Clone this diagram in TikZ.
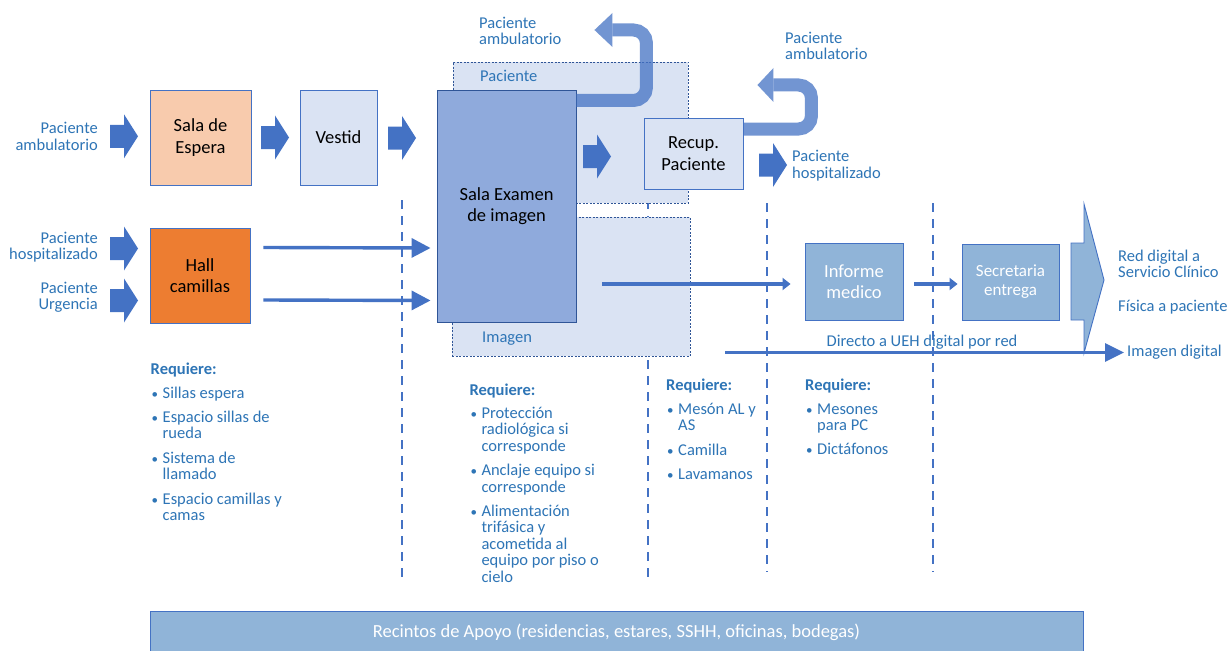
\documentclass[tikz,border=0pt]{standalone}
\usepackage{fontspec}
\setmainfont{Carlito}
\usetikzlibrary{arrows.meta}
\definecolor{txtblue}{RGB}{46,117,182}
\definecolor{arrblue}{RGB}{68,114,196}
\definecolor{bord}{RGB}{68,114,196}
\definecolor{darkbord}{RGB}{47,85,151}
\definecolor{peach}{RGB}{248,203,173}
\definecolor{pale}{RGB}{218,227,243}
\definecolor{examfill}{RGB}{143,170,220}
\definecolor{hallor}{RGB}{237,125,49}
\definecolor{infofill}{RGB}{144,180,216}
\newcommand{\lblfont}{\fontsize{16.5}{16.4}\selectfont}
\newcommand{\boxfont}{\fontsize{18.5}{21.5}\selectfont}
\newcommand{\bul}{\makebox[12pt][l]{\hspace{1pt}{\fontsize{13}{13}\selectfont •}}}
\newcommand{\ind}{\hspace*{12pt}}
\tikzset{
  box/.style={draw=bord, line width=0.9pt, align=center, inner sep=0pt, font=\boxfont, text=black},
  dbox/.style={draw=darkbord, line width=0.7pt, dash pattern=on 2pt off 1.5pt, fill=pale, inner sep=0pt},
  lbl/.style={font=\lblfont, text=txtblue, inner sep=0pt, align=left},
  lst/.style={font=\lblfont, text=txtblue, inner sep=0pt, align=left, anchor=base west},
  vdash/.style={draw=arrblue, line width=2.2pt, dash pattern=on 9pt off 7pt},
  flowthin/.style={draw=arrblue, line width=3.4pt, -{Triangle[length=19pt,width=19pt]}},
  flowthick/.style={draw=arrblue, line width=4.6pt, -{Triangle[length=8pt,width=12pt]}},
  flowlong/.style={draw=arrblue, line width=3.2pt, -{Triangle[length=19pt,width=18pt]}},
  uturn/.style={draw=arrblue, draw opacity=0.75, line width=13pt, rounded corners=13pt},
  uhead/.style={fill=arrblue, fill opacity=0.75},
  barrow/.pic={\fill[arrblue] (0,-11.5) -- (14,-11.5) -- (14,-22) -- (28,0) -- (14,22) -- (14,11.5) -- (0,11.5) -- cycle;}
}
\begin{document}
\begin{tikzpicture}[x=1pt,y=-1pt]
\useasboundingbox (0,0) rectangle (1230,650);
\fill[white] (0,0) rectangle (1230,650);

% vertical dashed separators
\draw[vdash] (402,200) -- (402,578);
\draw[vdash] (648,200) -- (648,578);
\draw[vdash] (767,203) -- (767,572);
\draw[vdash] (933,203) -- (933,572);

% dashed zones
\node[dbox, minimum width=235pt, minimum height=141pt] (pacbox) at (570.5,132.5) {};
\node[dbox, minimum width=238pt, minimum height=139pt] (imgbox) at (571,286.5) {};
\node[lbl, anchor=west] (paclbl) at (480,76) {Paciente};
\node[lbl, anchor=west] (imglbl) at (482,339) {Imagen};

% boxes
\node[box, fill=peach, minimum width=101pt, minimum height=95pt] (espera) at (200.5,137.5) {Sala de\\Espera};
\node[box, fill=pale, minimum width=77pt, minimum height=95pt] (vestid) at (338.5,137.5) {Vestid};
\node[box, fill=hallor, minimum width=100pt, minimum height=95pt] (hall) at (200,275.5) {Hall\\camillas};
\node[box, draw=darkbord, fill=examfill, minimum width=139pt, minimum height=232pt] (exam) at (506.5,206) {Sala Examen\\de imagen};
\node[box, fill=pale, minimum width=99pt, minimum height=71pt] (recup) at (693.5,153.5) {Recup.\\Paciente};
\node[box, fill=infofill, text=white, minimum width=98pt, minimum height=77pt] (informe) at (854,281.5) {Informe\\medico};
\node[box, fill=infofill, text=white, minimum width=97pt, minimum height=76pt, font=\fontsize{17}{19}\selectfont] (secret) at (1010.5,282) {Secretaria\\entrega};
\node[box, fill=infofill, text=white, minimum width=933pt, minimum height=42pt, font=\fontsize{18.5}{20}\selectfont] (apoyo) at (616.5,632) {Recintos de Apoyo (residencias, estares, SSHH, oficinas, bodegas)};

% big output chevron
\filldraw[fill=infofill, draw=bord, line width=0.9pt] (1071,243) -- (1084,243) -- (1084,204) -- (1104,280) -- (1084,353) -- (1084,320) -- (1071,320) -- cycle;

% block arrows
\pic at (110,136.3) {barrow};
\pic at (261,137.5) {barrow};
\pic at (388,138) {barrow};
\pic at (110,248.5) {barrow};
\pic at (110,300.5) {barrow};
\pic at (583,156.5) {barrow};
\pic at (759,165) {barrow};

% side labels
\node[lbl, align=right, anchor=east] (inamb) at (98,136.3) {Paciente\\ambulatorio};
\node[lbl, align=right, anchor=east] (inhosp) at (98,247.3) {Paciente\\hospitalizado};
\node[lbl, align=right, anchor=east] (inurg) at (98,297.5) {Paciente\\Urgencia};
\node[lbl, anchor=west] (outamb1) at (479,31) {Paciente\\ambulatorio};
\node[lbl, anchor=west] (outamb2) at (785,46) {Paciente\\ambulatorio};
\node[lbl, anchor=west] (outhosp) at (792,165.5) {Paciente\\hospitalizado};
\node[lbl, anchor=west] (reddig) at (1118,264) {Red digital a\\Servicio Clínico};
\node[lbl, anchor=west] (fisica) at (1118,307) {Física a paciente};
\node[lbl, anchor=west] (imgdig) at (1127,352.5) {Imagen digital};
\node[lbl] (directo) at (922,342) {Directo a UEH digital por red};

% flow connectors
\draw[flowthin] ([shift={(13,-28)}]hall.east) -- ([shift={(-6,42)}]exam.west);
\draw[flowthin] ([shift={(13,24.5)}]hall.east) -- ([shift={(-6,94.5)}]exam.west);
\draw[flowthick] ([shift={(26,78)}]exam.east) -- ([shift={(-14,2.5)}]informe.west);
\draw[flowthick] ([shift={(11,2.5)}]informe.east) -- ([shift={(-4,2)}]secret.west);
\coordinate (dstart) at (725,352.5);
\draw[flowlong] (dstart) -- ([xshift=-3pt]imgdig.west);

% U-turn exits
\draw[uturn] ([shift={(0,-105.5)}]exam.east) -- ++(70,0) -- ++(0,-70.5) -- ++(-34,0) coordinate (u1);
\fill[uhead] ([yshift=17pt]u1) -- ++(-18,17) -- ++(18,17) -- cycle;
\draw[uturn] ([shift={(0,-24.5)}]recup.east) -- ++(68,0) -- ++(0,-44) -- ++(-38,0) coordinate (u2);
\fill[uhead] ([yshift=17pt]u2) -- ++(-16,17) -- ++(16,17) -- cycle;

% requirement lists (anchor = baseline of last line)
\node[lst] (req1) at (150.5,520.5) {\textbf{Requiere:}\\[7pt]
\bul Sillas espera\\[8pt]
\bul Espacio sillas de\\ \ind rueda\\[8pt]
\bul Sistema de\\ \ind llamado\\[8pt]
\bul Espacio camillas y\\ \ind camas};
\node[lst] (req2) at (469.3,582) {\textbf{Requiere:}\\[7pt]
\bul Protección\\ \ind radiológica si\\ \ind corresponde\\[8pt]
\bul Anclaje equipo si\\ \ind corresponde\\[8pt]
\bul Alimentación\\ \ind trifásica y\\ \ind acometida al\\ \ind equipo por piso o\\ \ind cielo};
\node[lst] (req3) at (666,479.5) {\textbf{Requiere:}\\[7pt]
\bul Mesón AL y\\ \ind AS\\[8pt]
\bul Camilla\\[8pt]
\bul Lavamanos};
\node[lst] (req4) at (805,454.8) {\textbf{Requiere:}\\[7pt]
\bul Mesones\\ \ind para PC\\[8pt]
\bul Dictáfonos};
\end{tikzpicture}
\end{document}
